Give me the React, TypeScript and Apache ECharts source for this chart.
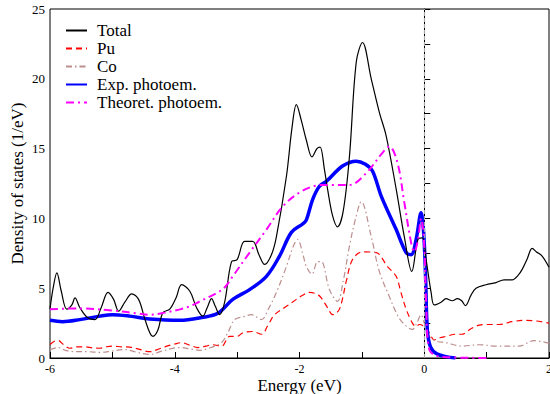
import React, { useEffect, useRef } from "react";
import * as echarts from "echarts";

const seriesNames = ["Total", "Pu", "Co", "Exp. photoem.", "Theoret. photoem."];

const totalDos: [number, number][] = [
  [-6.0, 3.5], [-5.95, 5.0], [-5.89, 6.1], [-5.82, 4.8], [-5.73, 3.5], [-5.65, 3.8], [-5.6, 4.3],
  [-5.52, 3.6], [-5.4, 2.9], [-5.28, 2.75], [-5.18, 3.6], [-5.07, 4.7], [-4.98, 4.2], [-4.9, 3.35],
  [-4.8, 4.0], [-4.69, 4.6], [-4.58, 4.2], [-4.48, 2.8], [-4.4, 1.8], [-4.35, 1.55], [-4.27, 2.0],
  [-4.19, 3.25], [-4.08, 3.5], [-3.98, 4.3], [-3.89, 5.25], [-3.76, 4.8], [-3.65, 3.6], [-3.55, 3.0],
  [-3.48, 3.6], [-3.41, 4.25], [-3.35, 3.7], [-3.28, 3.1], [-3.2, 4.0], [-3.09, 6.9], [-3.0, 7.05],
  [-2.88, 8.35], [-2.75, 8.35], [-2.65, 7.4], [-2.56, 6.7], [-2.45, 7.4], [-2.37, 8.7], [-2.21, 13.0],
  [-2.12, 16.5], [-2.05, 18.15], [-1.97, 17.0], [-1.89, 15.6], [-1.8, 14.4], [-1.72, 15.0], [-1.67, 15.1],
  [-1.6, 13.5], [-1.55, 12.1], [-1.47, 10.2], [-1.39, 9.4], [-1.3, 10.5], [-1.2, 14.4], [-1.09, 21.2],
  [-0.99, 22.6], [-0.85, 20.0], [-0.72, 17.6], [-0.61, 15.9], [-0.45, 12.1], [-0.32, 8.7], [-0.2, 6.2],
  [-0.1, 8.5], [-0.03, 8.6], [0.03, 7.05], [0.11, 4.7], [0.16, 3.8], [0.27, 4.0], [0.35, 4.25],
  [0.45, 4.1], [0.53, 4.25], [0.6, 4.1], [0.66, 3.75], [0.75, 4.5], [0.83, 5.0], [0.99, 5.25],
  [1.15, 5.4], [1.28, 5.6], [1.41, 5.6], [1.5, 5.9], [1.57, 6.35], [1.65, 7.1], [1.73, 7.85],
  [1.8, 7.6], [1.89, 7.3], [2.0, 6.5],
];

const puDos: [number, number][] = [
  [-6.0, 0.97], [-5.93, 1.2], [-5.87, 1.25], [-5.78, 0.95], [-5.68, 0.7], [-5.56, 0.8], [-5.44, 0.8],
  [-5.32, 0.72], [-5.2, 0.7], [-5.1, 0.8], [-5.0, 0.85], [-4.85, 0.8], [-4.72, 0.78], [-4.55, 0.6],
  [-4.4, 0.45], [-4.28, 0.6], [-4.16, 0.8], [-4.0, 1.0], [-3.89, 1.1], [-3.75, 0.9], [-3.63, 0.75],
  [-3.5, 0.85], [-3.4, 0.95], [-3.25, 0.85], [-3.12, 1.55], [-3.0, 1.55], [-2.91, 1.8], [-2.75, 1.9],
  [-2.61, 1.7], [-2.5, 2.4], [-2.4, 3.1], [-2.21, 3.7], [-2.05, 4.2], [-1.95, 4.5], [-1.84, 4.7],
  [-1.71, 4.55], [-1.65, 4.3], [-1.55, 3.6], [-1.47, 3.1], [-1.36, 3.5], [-1.25, 5.5], [-1.15, 7.05],
  [-0.99, 7.6], [-0.77, 7.55], [-0.59, 6.55], [-0.45, 5.85], [-0.38, 4.8], [-0.29, 3.5], [-0.19, 2.5],
  [-0.13, 2.25], [-0.08, 2.4], [0.0, 2.25], [0.08, 1.8], [0.16, 1.3], [0.25, 1.45], [0.35, 1.55],
  [0.5, 1.7], [0.6, 1.7], [0.75, 2.1], [0.88, 2.35], [1.0, 2.4], [1.2, 2.4], [1.4, 2.6], [1.63, 2.7],
  [1.8, 2.65], [2.0, 2.5],
];

const coDos: [number, number][] = [
  [-6.0, 0.6], [-5.87, 0.75], [-5.75, 0.55], [-5.6, 0.45], [-5.4, 0.45], [-5.2, 0.4], [-5.0, 0.5],
  [-4.8, 0.6], [-4.6, 0.4], [-4.4, 0.25], [-4.2, 0.5], [-3.92, 0.75], [-3.75, 0.65], [-3.6, 0.55],
  [-3.39, 0.8], [-3.25, 1.1], [-3.15, 1.8], [-3.04, 2.75], [-2.9, 2.95], [-2.77, 3.1], [-2.61, 2.75],
  [-2.5, 3.5], [-2.37, 4.7], [-2.21, 6.55], [-2.1, 8.0], [-2.03, 8.5], [-1.95, 7.5], [-1.89, 6.55],
  [-1.8, 6.0], [-1.71, 6.9], [-1.65, 6.9], [-1.52, 4.9], [-1.39, 4.05], [-1.3, 5.5], [-1.2, 8.0],
  [-1.1, 10.0], [-1.01, 11.2], [-0.85, 8.7], [-0.72, 6.2], [-0.56, 4.4], [-0.45, 3.25], [-0.35, 2.55],
  [-0.19, 2.05], [-0.12, 2.5], [-0.05, 3.1], [0.0, 2.5], [0.08, 1.55], [0.2, 1.2], [0.35, 1.1],
  [0.6, 0.85], [0.88, 0.95], [1.15, 0.85], [1.52, 0.85], [1.76, 1.25], [2.0, 1.05],
];

const expPhotoem: [number, number][] = [
  [-6.0, 2.7], [-5.8, 2.6], [-5.52, 2.75], [-5.2, 3.0], [-5.0, 3.1], [-4.72, 3.0], [-4.4, 2.8],
  [-3.92, 2.7], [-3.57, 2.9], [-3.31, 3.2], [-3.07, 4.2], [-2.8, 4.9], [-2.53, 5.85], [-2.32, 7.3],
  [-2.13, 9.0], [-1.95, 9.6], [-1.89, 9.9], [-1.79, 11.35], [-1.68, 12.3], [-1.57, 12.65],
  [-1.31, 13.75], [-1.09, 14.1], [-0.95, 13.9], [-0.83, 13.4], [-0.69, 11.6], [-0.45, 9.2],
  [-0.29, 7.55], [-0.21, 7.4], [-0.13, 8.5], [-0.05, 10.4], [-0.01, 9.0], [0.02, 6.0], [0.05, 2.0],
  [0.1, 0.8], [0.2, 0.3], [0.35, 0.1], [0.5, 0.0],
];

const theoPhotoem: [number, number][] = [
  [-6.0, 3.5], [-5.5, 3.55], [-5.0, 3.4], [-4.6, 3.2], [-4.4, 3.1], [-4.16, 3.25], [-3.9, 3.5],
  [-3.76, 3.7], [-3.6, 4.05], [-3.31, 4.7], [-3.2, 5.05], [-3.07, 5.85], [-2.8, 7.55], [-2.53, 9.2],
  [-2.27, 10.85], [-2.0, 11.85], [-1.73, 12.35], [-1.57, 12.4], [-1.2, 12.4], [-0.93, 13.25],
  [-0.67, 14.7], [-0.56, 15.15], [-0.43, 14.0], [-0.32, 11.15], [-0.21, 8.25], [-0.16, 7.6],
  [-0.1, 8.5], [-0.05, 10.0], [0.0, 8.0], [0.03, 4.0], [0.08, 0.6], [0.2, 0.15], [0.4, 0.05], [1.0, 0.0],
];

const FONT = "'Liberation Serif', 'Times New Roman', serif";

export default function App() {
  const ref = useRef<HTMLDivElement>(null);
  useEffect(() => {
    if (!ref.current) return;
    const chart = echarts.init(ref.current, undefined, { renderer: "svg" });
    const base = { type: "line", showSymbol: false, symbol: "none", smooth: 0.35 };
    chart.setOption({
      animation: false,
      backgroundColor: "#fff",
      textStyle: { fontFamily: FONT },
      grid: {
        left: 50, right: 1, top: 9, bottom: 36,
        outerBoundsMode: "none",
        containLabel: false,
        show: true, borderColor: "#000", borderWidth: 1, backgroundColor: "transparent",
      },
      legend: {
        orient: "vertical",
        left: 65,
        top: 22,
        padding: 0,
        itemWidth: 21,
        itemHeight: 12,
        itemGap: 1,
        itemStyle: { opacity: 0 },
        data: seriesNames,
        textStyle: { fontFamily: FONT, fontSize: 17, color: "#000", lineHeight: 17, padding: [0, 0, 0, 5] },
      },
      xAxis: {
        type: "value",
        min: -6,
        max: 2,
        interval: 2,
        name: "Energy (eV)",
        nameLocation: "middle",
        nameGap: 19,
        nameMoveOverlap: false,
        nameTextStyle: { fontFamily: FONT, fontSize: 17, color: "#000" },
        axisLine: { show: true, lineStyle: { color: "#000" } },
        axisTick: { inside: true, length: 6, lineStyle: { color: "#000" } },
        minorTick: { show: true, splitNumber: 2, length: 6, lineStyle: { color: "#000" } },
        axisLabel: { fontFamily: FONT, fontSize: 12, color: "#000", margin: 5 },
        splitLine: { show: false },
      },
      yAxis: {
        type: "value",
        min: 0,
        max: 25,
        interval: 5,
        name: "Density of states (1/eV)",
        nameLocation: "middle",
        nameGap: 24,
        nameMoveOverlap: false,
        nameTextStyle: { fontFamily: FONT, fontSize: 17, color: "#000" },
        axisLine: { show: true, lineStyle: { color: "#000" } },
        axisTick: { inside: true, length: 6, lineStyle: { color: "#000" } },
        minorTick: { show: true, splitNumber: 2, length: 6, lineStyle: { color: "#000" } },
        axisLabel: { fontFamily: FONT, fontSize: 13, color: "#000", margin: 5 },
        splitLine: { show: false },
      },
      series: [
        {
          ...base,
          name: seriesNames[0],
          data: totalDos,
          z: 5,
          lineStyle: { color: "#000", width: 1.2 },
          itemStyle: { color: "#000" },
          markLine: {
            silent: true,
            symbol: "none",
            label: { show: false },
            lineStyle: { color: "#aaaaaa", type: [4, 2], width: 1.2 },
            data: [{ xAxis: 0 }],
          },
        },
        {
          ...base,
          name: seriesNames[1],
          data: puDos,
          lineStyle: { color: "#ff0000", width: 1.2, type: [6, 4] },
          itemStyle: { color: "#ff0000" },
        },
        {
          ...base,
          name: seriesNames[2],
          data: coDos,
          lineStyle: { color: "#bc8f8f", width: 1.2, type: [6, 3, 1.5, 3] },
          itemStyle: { color: "#bc8f8f" },
        },
        {
          ...base,
          name: seriesNames[3],
          data: expPhotoem,
          z: 4,
          lineStyle: { color: "#0000ff", width: 3.5 },
          itemStyle: { color: "#0000ff" },
        },
        {
          ...base,
          name: seriesNames[4],
          data: theoPhotoem,
          z: 6,
          lineStyle: { color: "#ff00ff", width: 2, type: [8, 4, 2, 4] },
          itemStyle: { color: "#ff00ff" },
        },
      ],
    });
    return () => chart.dispose();
  }, []);
  return (
    <div
      ref={ref}
      style={{ position: "fixed", left: 0, top: 0, width: 550, height: 394 }}
    />
  );
}
